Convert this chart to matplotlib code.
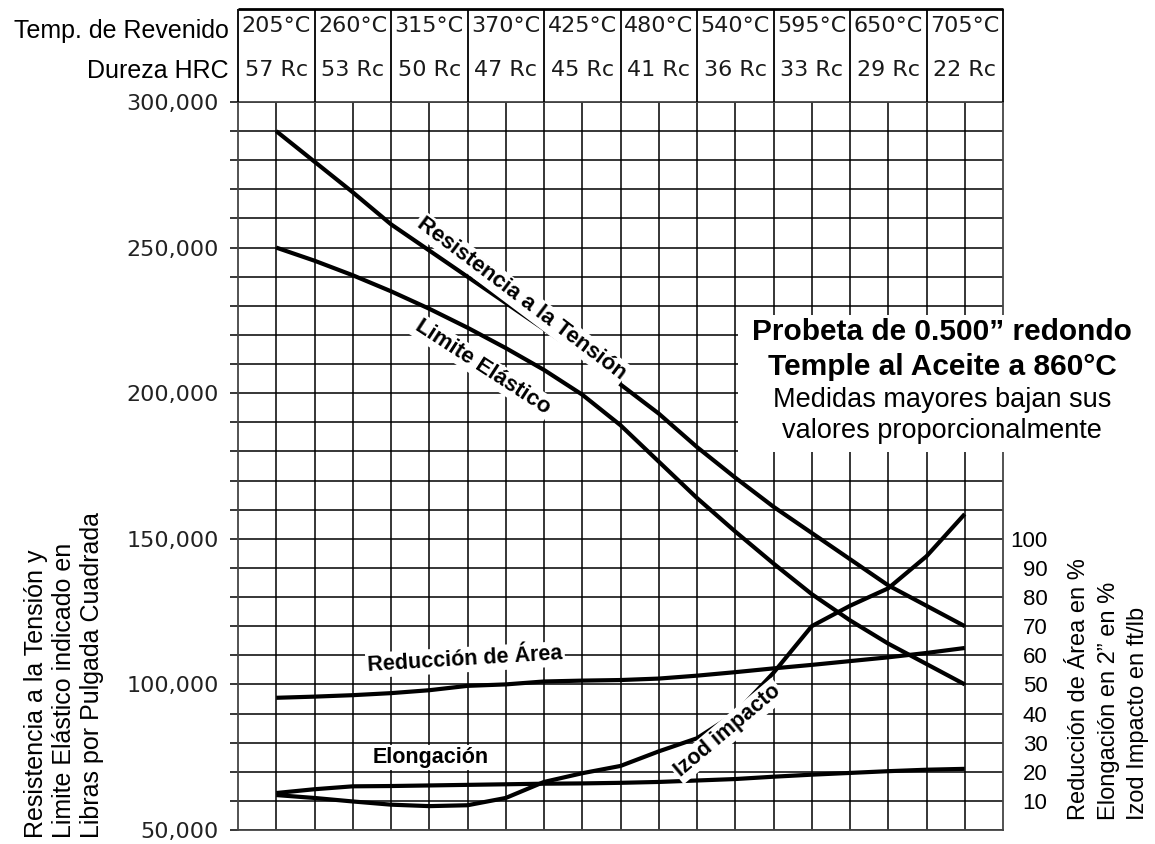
import matplotlib
matplotlib.use('Agg')
import matplotlib.pyplot as plt
from matplotlib.patches import Rectangle
import numpy as np

# header table
temps = ['205°C', '260°C', '315°C', '370°C', '425°C', '480°C', '540°C', '595°C', '650°C', '705°C']
hrc = ['57 Rc', '53 Rc', '50 Rc', '47 Rc', '45 Rc', '41 Rc', '36 Rc', '33 Rc', '29 Rc', '22 Rc']

# curves, sampled every half column (column index of the temperature table)
pos = [0.5, 1.0, 1.5, 2.0, 2.5, 3.0, 3.5, 4.0, 4.5, 5.0, 5.5, 6.0, 6.5, 7.0, 7.5, 8.0, 8.5, 9.0, 9.5]
tension = [290000, 279500, 269000, 258000, 249000, 240000, 231000, 222000, 213000, 203000,
           193000, 181500, 171000, 161000, 152000, 143000, 134000, 127000, 120000]
fluencia = [250000, 245500, 240500, 235000, 229000, 222500, 215500, 208000, 199500, 189000,
            176500, 164000, 152500, 141500, 131000, 122000, 114000, 107000, 100000]
reduccion = [45.4, 45.8, 46.3, 47, 48, 49.5, 50, 51, 51.3, 51.5, 52, 53, 54.2, 55.5, 56.7, 58, 59.3, 60.8, 62.5]
elongacion = [12.7, 14, 15, 15.1, 15.3, 15.5, 15.7, 15.9, 16, 16.2, 16.5, 17, 17.5, 18.3, 19, 19.6, 20.2, 20.7, 21]
izod = [12, 11, 9.8, 8.7, 8.2, 8.5, 11, 16.5, 19.5, 22, 27, 31.5, 40, 54, 70, 77, 83, 94, 108.5]

W, H = 1155, 844
fig = plt.figure(figsize=(W / 100, H / 100), dpi=100)

def fx(px):
    return px / W

def fy(py):
    return 1 - py / H

L, R, T, B = 238, 1003, 102, 830
SANS = 'Liberation Sans'

ax = fig.add_axes([fx(L), fy(B), (R - L) / W, (B - T) / H])
ax.set_xlim(0, 10)
ax.set_ylim(50000, 300000)
ax.set_xticks(np.arange(0.5, 10, 0.5))
ax.tick_params(axis='x', length=0, labelbottom=False)
yt = np.arange(50000, 300001, 10000)
ax.set_yticks(yt, ['{:,}'.format(v) if v % 50000 == 0 else '' for v in yt])
ax.tick_params(axis='y', length=6, width=1.1, pad=8, labelsize=16, labelcolor='#222')
for lbl in ax.get_yticklabels():
    lbl.set_family('DejaVu Sans')
ax.grid(True, color='black', lw=1.1)
for sp in ax.spines.values():
    sp.set_color('#444')
    sp.set_linewidth(1.3)

ax.plot(pos, tension, color='black', lw=3, solid_capstyle='butt')
ax.plot(pos, fluencia, color='black', lw=3, solid_capstyle='butt')

ax2 = ax.twinx()
ax2.set_ylim(0, 250)
ax2.set_yticks(range(10, 101, 10))
ax2.tick_params(axis='y', length=0, pad=32, labelsize=16)
for lbl in ax2.get_yticklabels():
    lbl.set_ha('right')
    lbl.set_family(SANS)
for sp in ax2.spines.values():
    sp.set_visible(False)

ax2.plot(pos, reduccion, color='black', lw=3, solid_capstyle='butt')
ax2.plot(pos, elongacion, color='black', lw=3, solid_capstyle='butt')
ax2.plot(pos, izod, color='black', lw=3, solid_capstyle='butt')

box = dict(facecolor='white', edgecolor='none', pad=1.5)
lab = dict(family=SANS, weight='bold', ha='center', va='center',
           rotation_mode='anchor', bbox=box, zorder=5)
ax2.text(3.7, 232500, 'Resistencia a la Tensión', rotation=-37, fontsize=16,
         transform=ax.transData, **lab)
ax2.text(3.2, 209000, 'Limite Elástico', rotation=-33, fontsize=16,
         transform=ax.transData, **lab)
ax2.text(2.97, 58.5, 'Reducción de Área', rotation=3.5, fontsize=15.5, **lab)
ax2.text(2.52, 25, 'Elongación', rotation=0, fontsize=15.5, **lab)
ax2.text(6.4, 34, 'Izod impacto', rotation=40, fontsize=15.5, **lab)

# header table
axh = fig.add_axes([fx(L), fy(T), (R - L) / W, (T - 9) / H])
axh.set_xlim(0, 10)
axh.set_ylim(0, 1)
axh.axis('off')
axh.vlines(range(11), 0, 1, color='black', lw=1.3, clip_on=False)
axh.hlines(1, 0, 10, color='black', lw=2, clip_on=False)
for i in range(10):
    axh.text(i + 0.5, 0.82, temps[i], ha='center', va='center', fontsize=16,
             family='DejaVu Sans', color='#1a1a1a')
    axh.text(i + 0.5, 0.34, hrc[i], ha='center', va='center', fontsize=16,
             family='DejaVu Sans', color='#1a1a1a')
axh.text(-0.12, 0.76, 'Temp. de Revenido', ha='right', va='center', fontsize=18, family=SANS)
axh.text(-0.12, 0.33, 'Dureza HRC', ha='right', va='center', fontsize=18, family=SANS)

# note box
fig.add_artist(Rectangle((fx(738), fy(452)), (1145 - 738) / W, (452 - 315) / H,
                         transform=fig.transFigure, facecolor='white', edgecolor='none', zorder=1))
fig.text(fx(942), fy(332), 'Probeta de 0.500” redondo', ha='center', va='center',
         fontsize=21.5, weight='bold', family=SANS)
fig.text(fx(942), fy(367), 'Temple al Aceite a 860°C', ha='center', va='center',
         fontsize=21.5, weight='bold', family=SANS)
fig.text(fx(942), fy(400), 'Medidas mayores bajan sus', ha='center', va='center',
         fontsize=19.5, family=SANS)
fig.text(fx(942), fy(431), 'valores proporcionalmente', ha='center', va='center',
         fontsize=19.5, family=SANS)

# axis titles
fig.text(fx(24), fy(838), 'Resistencia a la Tensión y\nLimite Elástico indicado en\nLibras por Pulgada Cuadrada',
         rotation=90, ha='left', va='bottom', multialignment='left', fontsize=18,
         family=SANS, linespacing=1.2)
fig.text(fx(1068), fy(820), 'Reducción de Área en %\nElongación en 2” en %\nIzod Impacto en ft/lb',
         rotation=90, ha='left', va='bottom', multialignment='left', fontsize=17,
         family=SANS, linespacing=1.45)

fig.savefig('out.png', dpi=100)
